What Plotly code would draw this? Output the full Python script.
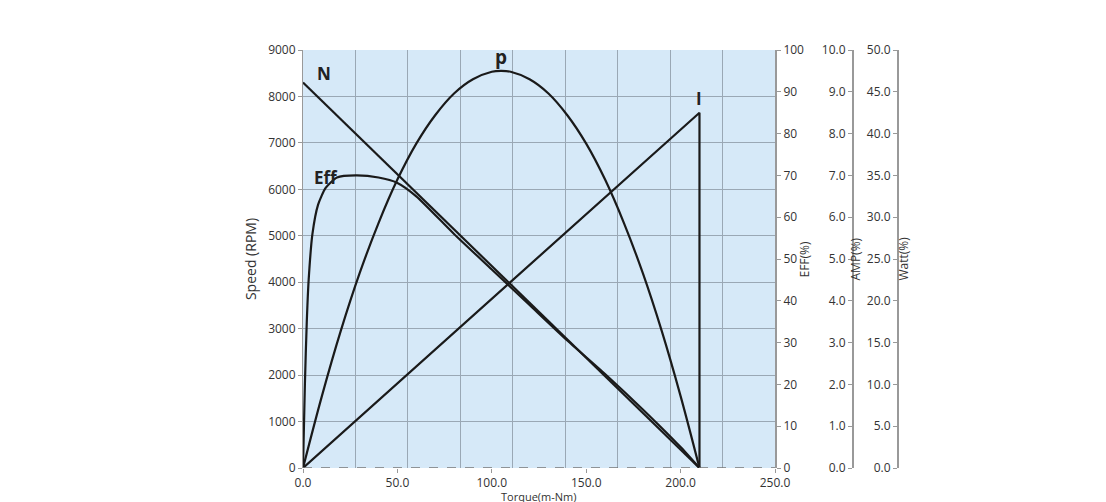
import plotly.graph_objects as go

torque_n = [0, 210]
speed_n = [8300, 0]

torque_i = [0, 210, 210]
current_i = [0, 8.5, 0]

torque_p = [0, 10, 20, 30, 40, 50, 60, 70, 80, 90, 100, 105, 110, 120, 130, 140, 150, 160, 170, 180, 190, 200, 210]
power_p = [0, 8.6, 16.4, 23.3, 29.3, 34.5, 38.8, 42.2, 44.8, 46.5, 47.4, 47.5, 47.4, 46.5, 44.8, 42.2, 38.8, 34.5, 29.3, 23.3, 16.4, 8.6, 0]

torque_e = [0, 1, 2, 3, 5, 8, 12, 18, 28, 40, 50, 60, 80, 100, 120, 140, 160, 180, 200, 210]
eff_e = [0, 20, 35, 45, 56, 63, 67, 69.5, 70, 69.5, 68.2, 65, 56, 47.5, 39, 30.5, 22.5, 14, 5, 0]

x_ticks = [0, 50, 100, 150, 200, 250]
x_tick_text = ["0.0", "50.0", "100.0", "150.0", "200.0", "250.0"]

line = dict(color="#1a1a1a", width=2.2)
fig = go.Figure()
fig.add_trace(go.Scatter(x=torque_n, y=speed_n, mode="lines", line=line, xaxis="x", yaxis="y"))
fig.add_trace(go.Scatter(x=torque_e, y=eff_e, mode="lines", line=dict(line, shape="spline", smoothing=0.6), xaxis="x", yaxis="y2"))
fig.add_trace(go.Scatter(x=torque_i, y=current_i, mode="lines", line=line, xaxis="x", yaxis="y3"))
fig.add_trace(go.Scatter(x=torque_p, y=power_p, mode="lines", line=dict(line, shape="spline"), xaxis="x", yaxis="y4"))

W = 611
xd = 472 / W
f = dict(family="Open Sans, DejaVu Sans", size=12, color="#333")
axc = "#999"
fig.update_layout(
    width=1106, height=502, showlegend=False,
    margin=dict(l=295, r=200, t=42, b=42),
    paper_bgcolor="white", plot_bgcolor="#d6e9f8",
    font=f,
    xaxis=dict(domain=[0, xd], range=[0, 250], tickvals=x_ticks, ticktext=x_tick_text, automargin=False,
               showgrid=False, zeroline=False, showline=False, ticks="outside", ticklen=4,
               tickcolor=axc, anchor="y"),
    xaxis2=dict(domain=[0, xd], range=[0, 9], dtick=1, overlaying="x", showgrid=True, automargin=False,
                gridcolor="#9aa8b5", gridwidth=1, showticklabels=False, zeroline=False, anchor="y"),
    yaxis=dict(range=[0, 9000], dtick=1000, showgrid=True, gridcolor="#9aa8b5", zeroline=False, automargin=False,
               showline=True, linecolor=axc, ticks="outside", ticklen=4, tickcolor=axc,
               title=dict(text="Speed (RPM)", standoff=8)),
    yaxis2=dict(range=[0, 100], dtick=10, overlaying="y", side="right", anchor="x", automargin=False,
                showgrid=False, zeroline=False, showline=True, linecolor=axc, linewidth=2,
                ticks="outside", ticklen=4, tickcolor=axc),
    yaxis3=dict(range=[0, 10], dtick=1, tickformat=".1f", overlaying="y", side="left", anchor="free",
                position=(845 - 295) / W, showgrid=False, zeroline=False, showline=True, automargin=False,
                linecolor=axc, linewidth=2, ticks="outside", ticklen=4, tickcolor=axc),
    yaxis4=dict(range=[0, 50], dtick=5, tickformat=".1f", overlaying="y", side="left", anchor="free",
                position=(890 - 295) / W, showgrid=False, zeroline=False, showline=True, automargin=False,
                linecolor=axc, linewidth=2, ticks="outside", ticklen=4, tickcolor=axc),
)
fig.add_trace(go.Scatter(x=[0], y=[0], mode="markers", marker=dict(opacity=0), xaxis="x2", yaxis="y", hoverinfo="skip"))
fig.add_shape(type="line", xref="x", yref="y", x0=0, x1=250, y0=0, y1=0,
              line=dict(color="#777", width=1.5, dash="dash"))

ann = [
    dict(text="<b>JRK-555SH-2440    24V</b>", x=-2, y=9650, xref="x", yref="y", xanchor="left", yanchor="middle",
         font=dict(size=19, color="#222", family="Open Sans")),
    dict(text="<b>N</b>", x=11, y=8500, font=dict(size=17)),
    dict(text="<b>p</b>", x=105, y=8850, font=dict(size=19)),
    dict(text="<b>Eff</b>", x=12, y=6250, font=dict(size=17)),
    dict(text="<b>I</b>", x=210, y=7950, font=dict(size=17)),
]
for a in ann:
    a.setdefault("xref", "x"); a.setdefault("yref", "y"); a.setdefault("showarrow", False)
    a.setdefault("yanchor", "middle"); a.setdefault("xanchor", "center")
    a["font"] = dict(a["font"], color="#222", family=a["font"].get("family", "Open Sans"))
    fig.add_annotation(**a)
fig.add_annotation(text="Torque(m-Nm)", x=125, y=-0.068, xref="x", yref="paper", yanchor="middle",
                   showarrow=False, font=dict(size=11, color="#333"))
for txt, px in [("EFF(%)", 806), ("AMP(%)", 857), ("Watt(%)", 905)]:
    fig.add_annotation(text=txt, x=(px - 295) / W, y=0.5, xref="paper", yref="paper", textangle=-90,
                       showarrow=False, font=dict(size=12, color="#333"))
fig.write_html("out.html")
